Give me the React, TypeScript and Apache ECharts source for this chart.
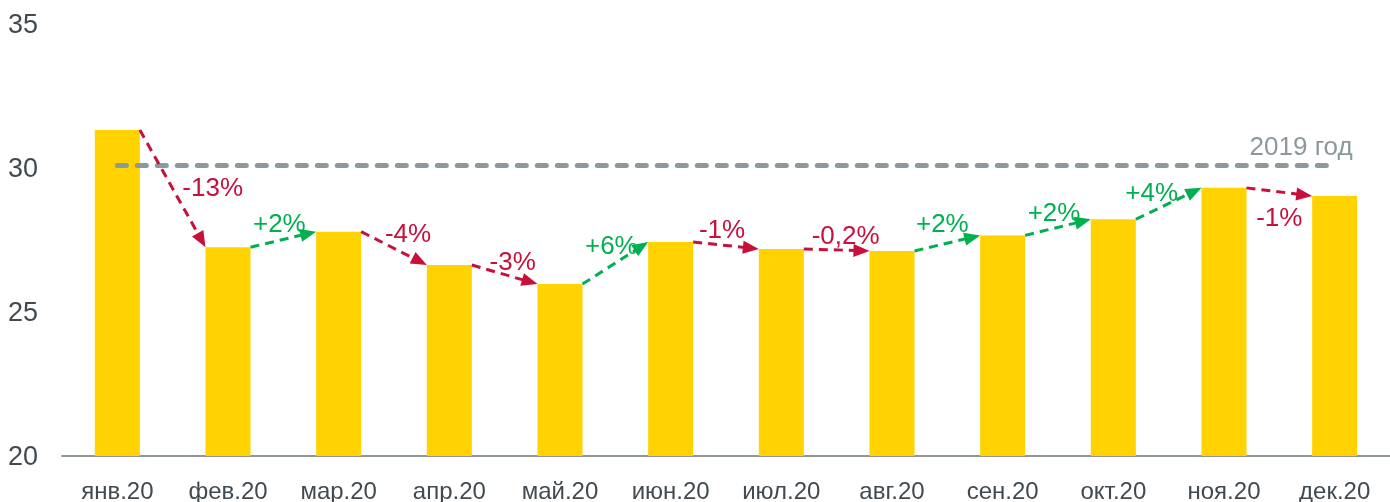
import React, { useEffect, useRef } from "react";
import * as echarts from "echarts";

const months = ["янв.20", "фев.20", "мар.20", "апр.20", "май.20", "июн.20", "июл.20", "авг.20", "сен.20", "окт.20", "ноя.20", "дек.20"];
const values = [31.32, 27.25, 27.79, 26.63, 25.97, 27.43, 27.19, 27.12, 27.66, 28.22, 29.31, 29.03];
const changeLabels = ["-13%", "+2%", "-4%", "-3%", "+6%", "-1%", "-0,2%", "+2%", "+2%", "+4%", "-1%"];
const baseline2019 = 30.1;
const baselineLabel = "2019 год";
const yTicks = [20, 25, 30, 35];

// label offsets (px) relative to arrow midpoints
const labelOffsets: [number, number][] = [
  [40, -2], [-4, -16], [14, -15], [8, -14], [-4, -18], [-4, -16],
  [9, -15], [-5, -20], [-4, -15], [-17, -12], [0, 25],
];

const BAR_W = 45;
const RED = "#C8103C";
const GREEN = "#00B050";
const FONT = "'Liberation Sans', Arial, sans-serif";

export default function App() {
  const ref = useRef<HTMLDivElement>(null);
  useEffect(() => {
    if (!ref.current) return;
    const chart = echarts.init(ref.current, undefined, { renderer: "svg" });
    const arrowData = changeLabels.map((l, i) => [i, values[i], values[i + 1], i]);
    chart.setOption({
      animation: false,
      grid: { left: 62, right: -11, top: 24, bottom: 46 },
      xAxis: {
        type: "category",
        data: months,
        axisLine: { lineStyle: { color: "#8C969B", width: 2 } },
        axisTick: { show: false },
        axisLabel: { color: "#404A50", fontSize: 24, fontFamily: FONT, margin: 22 },
      },
      yAxis: {
        type: "value",
        min: yTicks[0],
        max: yTicks[yTicks.length - 1],
        interval: 5,
        axisLine: { show: false },
        axisTick: { show: false },
        splitLine: { show: false },
        axisLabel: { color: "#404A50", fontSize: 27, fontFamily: FONT, margin: 24 },
      },
      series: [
        {
          type: "bar",
          data: values,
          barWidth: BAR_W,
          itemStyle: { color: "#FFD200" },
          markLine: {
            silent: true,
            symbol: "none",
            lineStyle: { color: "#8C989E", width: 5, type: [9, 11], cap: "round" },
            label: {
              show: true,
              position: "insideEndTop",
              formatter: baselineLabel,
              color: "#8C989E",
              fontSize: 26,
              fontFamily: FONT,
              distance: [0, 8],
              offset: [18, 2],
            },
            data: [[{ coord: [months[0], baseline2019] }, { coord: [months[11], baseline2019] }]],
          },
        },
        {
          type: "custom",
          coordinateSystem: "cartesian2d",
          encode: { x: 0, y: 1 },
          data: arrowData,
          z: 5,
          renderItem: (params: any, api: any) => {
            const i = api.value(0);
            const v0 = api.value(1);
            const v1 = api.value(2);
            const p0 = api.coord([i, v0]);
            const p1 = api.coord([i + 1, v1]);
            const half = BAR_W / 2;
            const sx = p0[0] + half, sy = p0[1];
            const ex = p1[0] - half, ey = p1[1];
            const dx = ex - sx, dy = ey - sy;
            const len = Math.sqrt(dx * dx + dy * dy);
            const ux = dx / len, uy = dy / len;
            const AL = 16, AW = 6.5;
            const bx = ex - ux * AL, by = ey - uy * AL;
            const label = changeLabels[i];
            const color = label.startsWith("+") ? GREEN : RED;
            const mx = (sx + ex) / 2, my = (sy + ey) / 2;
            const off = labelOffsets[i];
            return {
              type: "group",
              children: [
                {
                  type: "line",
                  shape: { x1: sx, y1: sy, x2: bx + ux * 2, y2: by + uy * 2 },
                  style: { stroke: color, lineWidth: 3, lineDash: [9, 6] },
                },
                {
                  type: "polygon",
                  shape: {
                    points: [
                      [ex, ey],
                      [bx - uy * AW, by + ux * AW],
                      [bx + uy * AW, by - ux * AW],
                    ],
                  },
                  style: { fill: color },
                },
                {
                  type: "text",
                  x: mx + off[0],
                  y: my + off[1],
                  style: {
                    text: label,
                    fill: color,
                    fontSize: 26,
                    fontFamily: FONT,
                    align: "center",
                    verticalAlign: "middle",
                  },
                },
              ],
            };
          },
        },
      ],
    });
    return () => chart.dispose();
  }, []);
  return (
    <div
      ref={ref}
      style={{ position: "fixed", left: 0, top: 0, width: 1390, height: 502 }}
    />
  );
}
